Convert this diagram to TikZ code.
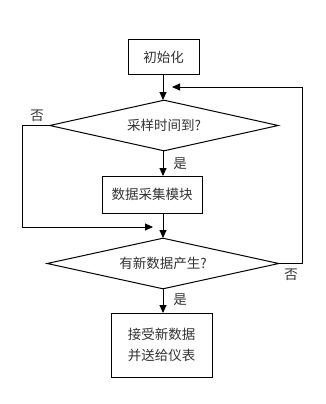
\documentclass[tikz,border=0pt]{standalone}
\usepackage{fontspec}
\newfontfamily\cjk{Noto Sans CJK SC}
\usetikzlibrary{shapes.geometric,arrows.meta}
\begin{document}
\begin{tikzpicture}[x=1pt,y=-1pt,
  font=\cjk\fontsize{13.5}{16}\selectfont,
  every path/.style={line width=0.9pt},
  procbox/.style={draw,rectangle,inner sep=0pt,line width=1pt,text=black!80},
  decis/.style={draw,diamond,inner sep=0pt,aspect=4.5,line width=1pt,text=black!80},
  arr/.style={-{Triangle[length=8pt,width=7pt]}},
  lbl/.style={inner sep=0pt,text=black!80}]
\useasboundingbox (0,0) rectangle (325,404);
\fill[white] (0,0) rectangle (325,404);
\node[procbox,minimum width=71pt,minimum height=34pt] (init) at (163.5,57) {初始化};
\node[decis,minimum width=229pt,minimum height=51pt] (d1) at (164,125.5) {采样时间到?};
\node[procbox,minimum width=100pt,minimum height=37pt] (acq) at (152,194.5) {数据采集模块};
\node[decis,minimum width=232pt,minimum height=51pt] (d2) at (163,263.5) {有新数据产生?};
\node[procbox,minimum width=101pt,minimum height=64pt,align=center] (send) at (161.5,345) {接受新数据\\[5pt]并送给仪表};
\coordinate (fbR) at (302,263.5);
\coordinate (fbT) at (302,87);
\coordinate (fbE) at (172,87);
\coordinate (nL) at (22,125.5);
\coordinate (nB) at (22,227);
\coordinate (nE) at (153,227);
\draw[arr] (init.south -| 163,0) -- (163,100);
\draw[arr] (d2.east) -- (fbR) -- (fbT) -- (fbE);
\draw[arr] (d1.west) -- (nL) -- (nB) -- (nE);
\draw[arr] (163,151) -- (163,176);
\draw[arr] (163,213) -- (163,238);
\draw[arr] (163,289) -- (163,313);
\node[lbl] (no1) at (37,116) {否};
\node[lbl] (yes1) at (180,164) {是};
\node[lbl] (yes2) at (180,300) {是};
\node[lbl] (no2) at (291,275) {否};
\end{tikzpicture}
\end{document}
